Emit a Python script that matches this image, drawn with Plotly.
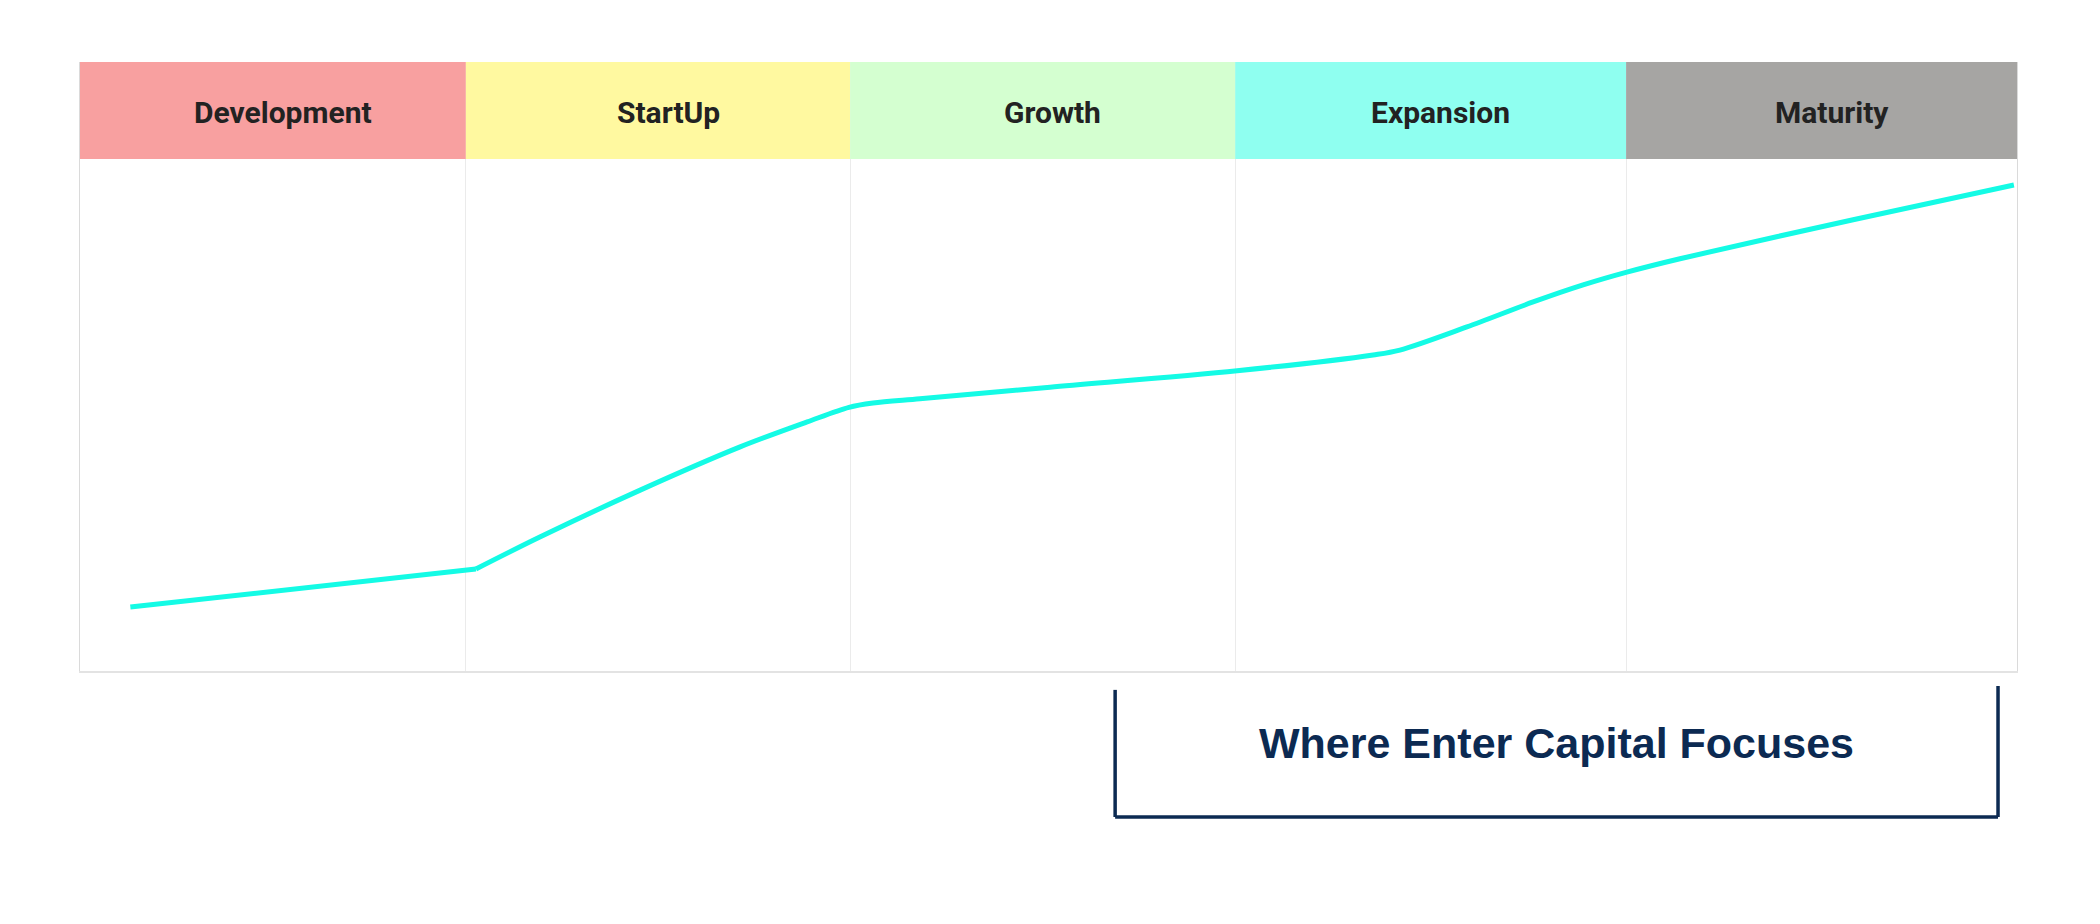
"""
Business lifecycle chart: stage header bands, growth curve and focus bracket
"""

import plotly.graph_objects as go

# stage data
stages = ['Development', 'StartUp', 'Growth', 'Expansion', 'Maturity']
stage_edges = [0, 0.996, 1.988, 2.982, 3.991, 5]
stage_colors = ['#f8a0a0', '#fff9a0', '#d4ffd0', '#8ffff0', '#a6a5a3']

# growth curve (x in stage units, y as percent of plot height)
# first two points form the straight Development segment, the rest is smooth
curve_x = [0.13, 1.022, 1.187, 1.446, 1.704, 1.877, 1.985, 2.047, 2.168, 2.504,
           2.987, 3.338, 3.407, 3.580, 3.751, 3.880, 3.993, 4.130, 4.577, 4.992]
curve_y = [10.5, 16.75, 22.0, 29.7, 36.8, 40.9, 43.3, 44.0, 44.7, 46.6,
           49.3, 51.9, 52.7, 56.5, 60.6, 63.4, 65.5, 67.7, 74.1, 79.8]

# focus bracket
focus_label = 'Where Enter Capital Focuses'
focus_start = 2.672
focus_end = 4.951

HEADER_BOTTOM = 84.07
NAVY = '#0c2a52'
CYAN = '#14fbe5'
LABEL_FONT = 'Roboto, Liberation Sans Narrow, sans-serif'

fig = go.Figure()

# Development segment is straight, the rest is curved
fig.add_trace(
    go.Scatter(
        x=curve_x[:2],
        y=curve_y[:2],
        mode='lines',
        line=dict(color=CYAN, width=5),
        hoverinfo='skip',
        showlegend=False
    )
)
fig.add_trace(
    go.Scatter(
        x=curve_x[1:],
        y=curve_y[1:],
        mode='lines',
        line=dict(color=CYAN, width=5, shape='spline', smoothing=0.9),
        hoverinfo='skip',
        showlegend=False
    )
)

# Header bands with stage names
for i, name in enumerate(stages):
    fig.add_shape(
        type='rect',
        xref='x', yref='y',
        x0=stage_edges[i], x1=stage_edges[i + 1],
        y0=HEADER_BOTTOM, y1=100,
        fillcolor=stage_colors[i],
        line=dict(width=0),
        layer='between'
    )
    fig.add_annotation(
        x=(stage_edges[i] + stage_edges[i + 1]) / 2,
        y=(HEADER_BOTTOM + 100) / 2,
        xref='x', yref='y',
        text=f'<b>{name}</b>',
        showarrow=False,
        xshift=10,
        yshift=-2,
        yanchor='middle',
        font=dict(family=LABEL_FONT, size=30, color='#222222')
    )

# Bracket under the later stages
fig.add_shape(type='line', xref='x', yref='paper',
              x0=focus_start, x1=focus_start, y0=-0.031, y1=-0.2397,
              line=dict(color=NAVY, width=3.5))
fig.add_shape(type='line', xref='x', yref='paper',
              x0=focus_end, x1=focus_end, y0=-0.0246, y1=-0.2397,
              line=dict(color=NAVY, width=3.5))
fig.add_shape(type='line', xref='x', yref='paper',
              x0=focus_start, x1=focus_end, y0=-0.2397, y1=-0.2397,
              line=dict(color=NAVY, width=3.5))
fig.add_annotation(
    x=(focus_start + focus_end) / 2,
    y=-0.118,
    xref='x', yref='paper',
    xanchor='center', yanchor='middle',
    text=f'<b>{focus_label}</b>',
    showarrow=False,
    font=dict(family='Liberation Sans, Arial, sans-serif', size=43, color=NAVY)
)

fig.update_layout(
    width=2092,
    height=916,
    margin=dict(l=72, r=83, t=54, b=253),
    paper_bgcolor='white',
    plot_bgcolor='white',
    showlegend=False
)

fig.update_xaxes(
    range=[0, 5],
    tickvals=stage_edges[1:-1],
    showticklabels=False,
    ticks='',
    showgrid=True,
    gridcolor='#ebebeb',
    gridwidth=1,
    zeroline=False,
    showline=True,
    linecolor='#e3e3e3',
    linewidth=2
)
fig.update_yaxes(
    range=[0, 100],
    showticklabels=False,
    ticks='',
    showgrid=False,
    zeroline=False,
    showline=True,
    mirror=True,
    linecolor='#dadada',
    linewidth=1
)

fig.write_html("out.html")
